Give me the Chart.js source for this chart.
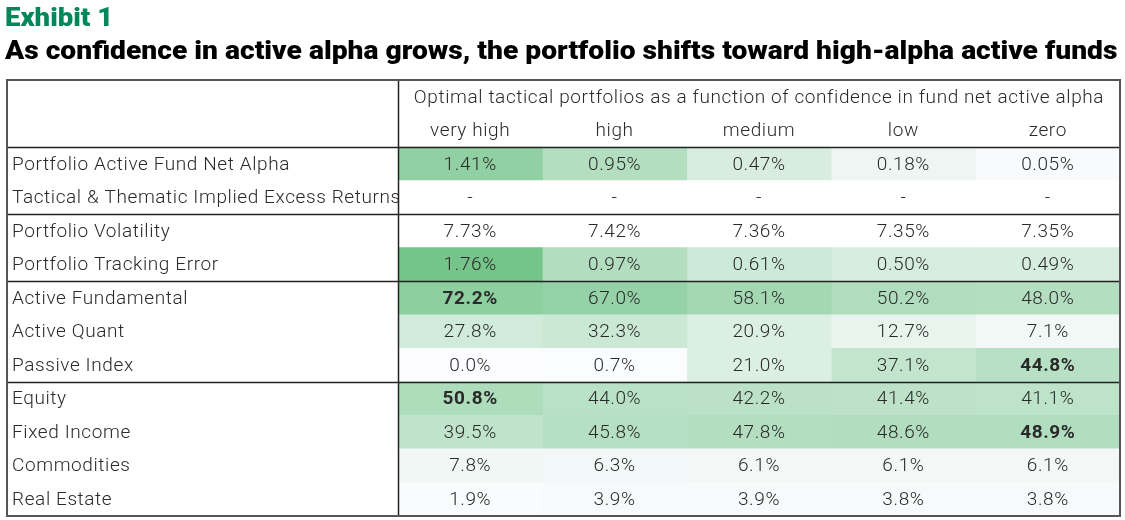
<!DOCTYPE html>
<html><head><meta charset="utf-8">
<script src="https://cdn.jsdelivr.net/npm/chart.js@4.4.1/dist/chart.umd.min.js"></script>
<style>
html,body{margin:0;padding:0;background:#fff;width:1125px;height:520px;overflow:hidden}
#wrap{position:relative;width:1125px;height:520px}
canvas{position:absolute;left:0;top:0}
.t{position:absolute;left:5px;white-space:nowrap;font-family:Roboto,'Noto Sans',sans-serif;font-weight:900;line-height:1;transform-origin:0 0}
#t1{color:#00875a;font-size:25px;top:5px}
#t2{color:#000;font-size:26px;top:37px}
</style></head><body>
<div id="wrap"><canvas id="c" width="1125" height="520"></canvas>
<div class="t" id="t1">Exhibit 1</div>
<div class="t" id="t2">As confidence in active alpha grows, the portfolio shifts toward high-alpha active funds</div>
</div>
<script>
// ---- data ----
const headerTitle = 'Optimal tactical portfolios as a function of confidence in fund net active alpha';
const columns = ['very high', 'high', 'medium', 'low', 'zero'];
const rowLabels = ['Portfolio Active Fund Net Alpha', 'Tactical & Thematic Implied Excess Returns',
  'Portfolio Volatility', 'Portfolio Tracking Error', 'Active Fundamental', 'Active Quant',
  'Passive Index', 'Equity', 'Fixed Income', 'Commodities', 'Real Estate'];
const netAlpha = [1.41, 0.95, 0.47, 0.18, 0.05];
const tacticalExcess = [null, null, null, null, null];
const volatility = [7.73, 7.42, 7.36, 7.35, 7.35];
const trackingError = [1.76, 0.97, 0.61, 0.50, 0.49];
const activeFundamental = [72.2, 67.0, 58.1, 50.2, 48.0];
const activeQuant = [27.8, 32.3, 20.9, 12.7, 7.1];
const passiveIndex = [0.0, 0.7, 21.0, 37.1, 44.8];
const equity = [50.8, 44.0, 42.2, 41.4, 41.1];
const fixedIncome = [39.5, 45.8, 47.8, 48.6, 48.9];
const commodities = [7.8, 6.3, 6.1, 6.1, 6.1];
const realEstate = [1.9, 3.9, 3.9, 3.8, 3.8];
const rowValues = [netAlpha, tacticalExcess, volatility, trackingError, activeFundamental,
  activeQuant, passiveIndex, equity, fixedIncome, commodities, realEstate];
const rowDecimals = [2, 2, 2, 2, 1, 1, 1, 1, 1, 1, 1];
const boldCells = [[4, 0], [6, 4], [7, 0], [8, 4]];

// ---- style ----
const scaleMax = [2, null, null, 2, 100, 100, 100, 100, 100, 100, 100];
const lowC = [252, 252, 255], highC = [99, 190, 123];
function cellColor(r, c) {
  const v = rowValues[r][c], m = scaleMax[r];
  if (v === null || !m) return '#ffffff';
  const t = Math.max(0, Math.min(1, v / m));
  const rgb = lowC.map((a, k) => Math.round(a + (highC[k] - a) * t));
  return `rgb(${rgb.join(',')})`;
}
const separatorsAfter = [1, 3, 5, 8]; // category index boundaries
const FONT = "Roboto, 'Noto Sans', sans-serif";
const TEXT = '#2a2a2a';
const FS = 19;

// fit titles
function fit(id, w) { const el = document.getElementById(id); el.style.transform = `scaleX(${w / el.offsetWidth})`; }
fit('t1', 108); fit('t2', 1112);

const categories = ['', ''].concat(rowLabels);

const tablePlugin = {
  id: 'tablePlugin',
  afterDatasetsDraw(chart) {
    const ctx = chart.ctx, xs = chart.scales.x, ys = chart.scales.y, ca = chart.chartArea;
    const rowH = ys.getPixelForValue(1) - ys.getPixelForValue(0);
    ctx.save();
    ctx.fillStyle = TEXT;
    ctx.textBaseline = 'middle';
    if ('letterSpacing' in ctx) ctx.letterSpacing = '0.6px';
    ctx.font = `300 ${FS}px ${FONT}`;
    ctx.textAlign = 'center';
    ctx.fillText(headerTitle, xs.getPixelForValue(2.5), ys.getPixelForValue(0) + 1);
    columns.forEach((c, j) => ctx.fillText(c, xs.getPixelForValue(j + 0.5), ys.getPixelForValue(1) + 1));
    ctx.textAlign = 'left';
    rowLabels.forEach((l, i) => ctx.fillText(l, ys.left + 5, ys.getPixelForValue(i + 2) + 1));
    ctx.textAlign = 'center';
    rowValues.forEach((vals, r) => {
      vals.forEach((v, c) => {
        const bold = boldCells.some(b => b[0] === r && b[1] === c);
        ctx.font = `${bold ? 700 : 300} ${FS}px ${FONT}`;
        const txt = v === null ? '-' : v.toFixed(rowDecimals[r]) + '%';
        ctx.fillText(txt, xs.getPixelForValue(c + 0.5), ys.getPixelForValue(r + 2) + 1);
      });
    });
    // lines
    const left = ys.left, right = ca.right, top = ca.top, bottom = ca.bottom;
    ctx.strokeStyle = '#222';
    ctx.lineWidth = 1.5;
    separatorsAfter.forEach(i => {
      const y = Math.round(ys.getPixelForValue(i) + rowH / 2) + 0.5;
      ctx.beginPath(); ctx.moveTo(left, y); ctx.lineTo(right, y); ctx.stroke();
    });
    const xv = Math.round(xs.getPixelForValue(0)) + 0.5;
    ctx.beginPath(); ctx.moveTo(xv, top); ctx.lineTo(xv, bottom); ctx.stroke();
    ctx.strokeStyle = '#555';
    ctx.lineWidth = 2;
    ctx.strokeRect(left, top, right - left, bottom - top);
    ctx.restore();
  }
};

new Chart(document.getElementById('c'), {
  type: 'bar',
  data: {
    labels: categories,
    datasets: columns.map((col, j) => ({
      label: col,
      data: categories.map((_, i) => i < 2 ? null : [j, j + 1]),
      backgroundColor: categories.map((_, i) => i < 2 ? '#ffffff' : cellColor(i - 2, j)),
      grouped: false,
      barPercentage: 1,
      categoryPercentage: 1,
      borderWidth: 0
    }))
  },
  options: {
    indexAxis: 'y',
    responsive: false,
    animation: false,
    events: [],
    layout: { padding: { top: 80, bottom: 4, left: 7, right: 5 } },
    plugins: { legend: { display: false }, tooltip: { enabled: false } },
    scales: {
      x: { type: 'linear', min: 0, max: 5, display: false },
      y: { type: 'category', offset: true, grid: { display: false }, border: { display: false },
           ticks: { display: false }, afterFit(s) { s.width = 391; } }
    }
  },
  plugins: [tablePlugin]
});
</script>
</body></html>
